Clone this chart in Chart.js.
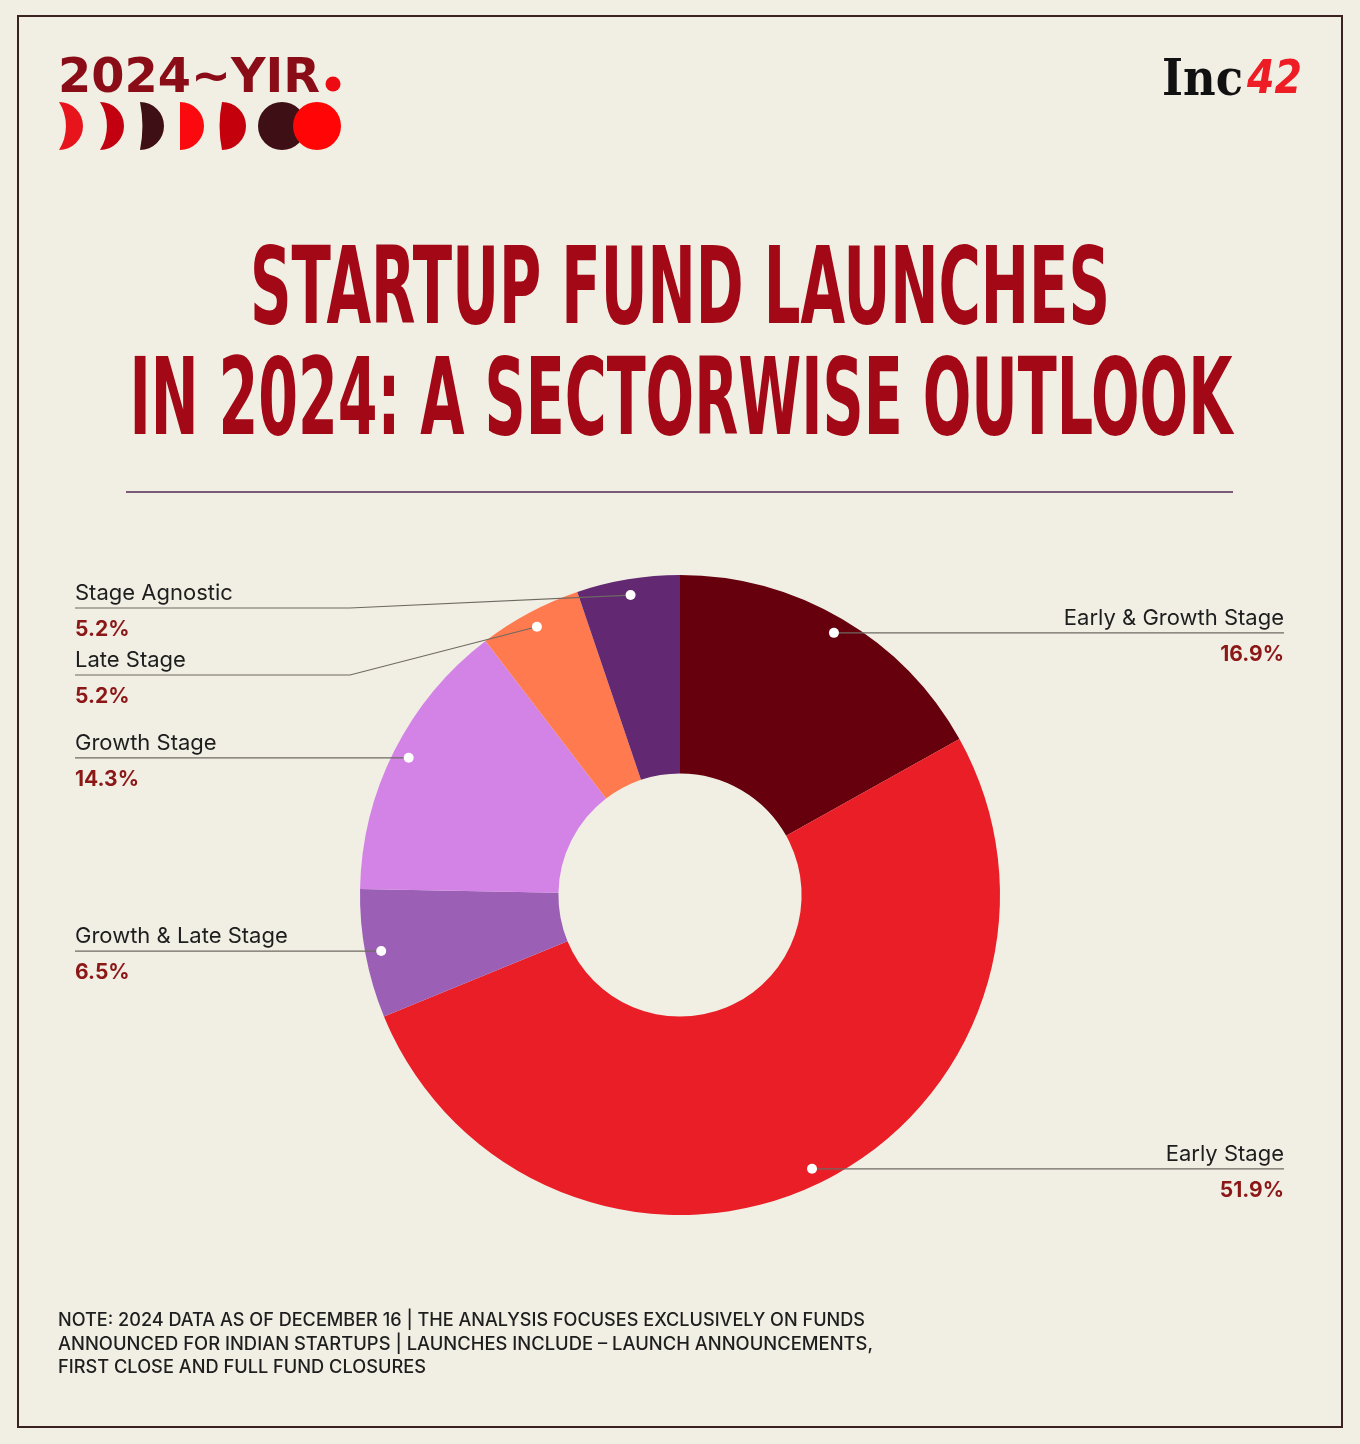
<!DOCTYPE html>
<html>
<head>
<meta charset="utf-8">
<script src="https://cdn.jsdelivr.net/npm/chart.js@4"></script>
<style>
    html, body { margin: 0; padding: 0; }
    body { width: 1360px; height: 1444px; background: #f1eee4; position: relative; overflow: hidden; }
    #fundChart { position: absolute; left: 0; top: 0; }
    #overlay { position: absolute; left: 0; top: 0; pointer-events: none; }
    .frame { position: absolute; left: 17px; top: 15px; width: 1326px; height: 1413px; box-sizing: border-box; border: 2px solid #3a2222; }
    .rule { position: absolute; left: 126px; top: 491px; width: 1107px; height: 1.5px; background: #7a5a76; }
</style>
</head>
<body>
<div class="frame"></div>
<div class="rule"></div>
<canvas id="fundChart" width="1360" height="1444"></canvas>

<svg id="overlay" width="1360" height="1444" xmlns="http://www.w3.org/2000/svg">
    <!-- 2024~YIR logo -->
    <text x="58" y="92" font-family="DejaVu Sans" font-weight="bold" font-size="48" fill="#8a0c16"
          textLength="262" lengthAdjust="spacingAndGlyphs">2024~YIR</text>
    <circle cx="333" cy="84" r="7.5" fill="#ee0a12"/>
    <path d="M59,102 A24,24 0 0 1 59,150 A45,45 0 0 0 59,102 Z" fill="#e8141c"/>
    <path d="M100,102 A24,24 0 0 1 100,150 A45,45 0 0 0 100,102 Z" fill="#c20010"/>
    <path d="M140,102 A24,24 0 0 1 140,150 A120,120 0 0 0 140,102 Z" fill="#3e0f15"/>
    <path d="M180,102 A24,24 0 0 1 180,150 Z" fill="#fa0a0f"/>
    <path d="M222,102 A24,24 0 0 1 222,150 A120,120 0 0 1 222,102 Z" fill="#c4000d"/>
    <circle cx="282" cy="126" r="24" fill="#3e0f15"/>
    <circle cx="317" cy="126" r="24" fill="#ff0505"/>

    <!-- Inc42 logo -->
    <text x="1162" y="95" font-family="DejaVu Serif" font-weight="bold" font-size="50" fill="#111111"
          textLength="81" lengthAdjust="spacingAndGlyphs">Inc</text>
    <text x="1247" y="93" font-family="DejaVu Sans" font-weight="bold" font-style="italic" font-size="46" fill="#ee1c24"
          textLength="55" lengthAdjust="spacingAndGlyphs">42</text>

    <!-- Title -->
    <text x="680" y="323" text-anchor="middle" font-family="DejaVu Sans" font-weight="bold" font-size="107" fill="#a30816"
          textLength="860" lengthAdjust="spacingAndGlyphs">STARTUP FUND LAUNCHES</text>
    <text x="681" y="434" text-anchor="middle" font-family="DejaVu Sans" font-weight="bold" font-size="107" fill="#a30816"
          textLength="1103" lengthAdjust="spacingAndGlyphs">IN 2024: A SECTORWISE OUTLOOK</text>

    <!-- Note -->
    <g font-family="Inter" font-weight="500" font-size="18" fill="#1e1e1e">
        <text x="58" y="1326" textLength="807" lengthAdjust="spacingAndGlyphs">NOTE: 2024 DATA AS OF DECEMBER 16 | THE ANALYSIS FOCUSES EXCLUSIVELY ON FUNDS</text>
        <text x="58" y="1350" textLength="815" lengthAdjust="spacingAndGlyphs">ANNOUNCED FOR INDIAN STARTUPS | LAUNCHES INCLUDE – LAUNCH ANNOUNCEMENTS,</text>
        <text x="58" y="1373" textLength="368" lengthAdjust="spacingAndGlyphs">FIRST CLOSE AND FULL FUND CLOSURES</text>
    </g>
</svg>

<script>
// Data
const categories = ['Early & Growth Stage', 'Early Stage', 'Growth & Late Stage', 'Growth Stage', 'Late Stage', 'Stage Agnostic'];
const shares = [16.9, 51.9, 6.5, 14.3, 5.2, 5.2];
const sliceColors = ['#65000c', '#e91e26', '#9b60b5', '#d383e6', '#ff7a4f', '#632872'];

// Label placement (side, optional fixed line y and elbow x)
const labelLayout = [
    { side: 'right' },
    { side: 'right' },
    { side: 'left' },
    { side: 'left' },
    { side: 'left', lineY: 675, elbowX: 350 },
    { side: 'left', lineY: 608, elbowX: 350 }
];

const LEFT_X = 75;
const RIGHT_X = 1284;

// Leader lines, dots and labels
const leaderLabels = {
    id: 'leaderLabels',
    afterDatasetsDraw(chart) {
        const ctx = chart.ctx;
        const meta = chart.getDatasetMeta(0);
        ctx.save();
        meta.data.forEach((arc, i) => {
            const p = arc.getProps(['x', 'y', 'startAngle', 'endAngle', 'outerRadius'], true);
            const mid = (p.startAngle + p.endAngle) / 2;
            const r = p.outerRadius * 0.95;
            const px = p.x + Math.cos(mid) * r;
            const py = p.y + Math.sin(mid) * r;
            const cfg = labelLayout[i];
            const lineY = cfg.lineY !== undefined ? cfg.lineY : py;

            ctx.strokeStyle = '#6e6962';
            ctx.lineWidth = 1.2;
            ctx.beginPath();
            if (cfg.side === 'left') {
                ctx.moveTo(LEFT_X, lineY);
                if (cfg.elbowX !== undefined) {
                    ctx.lineTo(cfg.elbowX, lineY);
                    ctx.lineTo(px, py);
                } else {
                    ctx.lineTo(px, lineY);
                }
            } else {
                ctx.moveTo(px, lineY);
                ctx.lineTo(RIGHT_X, lineY);
            }
            ctx.stroke();

            // white dot
            ctx.fillStyle = '#ffffff';
            ctx.beginPath();
            ctx.arc(px, py, 5, 0, Math.PI * 2);
            ctx.fill();

            // texts
            const tx = cfg.side === 'left' ? LEFT_X : RIGHT_X;
            ctx.textAlign = cfg.side === 'left' ? 'left' : 'right';
            ctx.textBaseline = 'alphabetic';
            ctx.fillStyle = '#1e1e1e';
            ctx.font = '400 22px Inter';
            ctx.fillText(chart.data.labels[i], tx, lineY - 8);
            ctx.fillStyle = '#8c1717';
            ctx.font = '700 21px Inter';
            ctx.fillText(chart.data.datasets[0].data[i].toFixed(1) + '%', tx, lineY + 28);
        });
        ctx.restore();
    }
};

new Chart(document.getElementById('fundChart'), {
    type: 'doughnut',
    data: {
        labels: categories,
        datasets: [{
            data: shares,
            backgroundColor: sliceColors,
            borderWidth: 0,
            hoverOffset: 0
        }]
    },
    options: {
        responsive: false,
        animation: false,
        cutout: '38%',
        layout: {
            padding: { left: 360, right: 360, top: 575, bottom: 229 }
        },
        plugins: {
            legend: { display: false },
            tooltip: { enabled: false }
        }
    },
    plugins: [leaderLabels]
});
</script>
</body>
</html>
